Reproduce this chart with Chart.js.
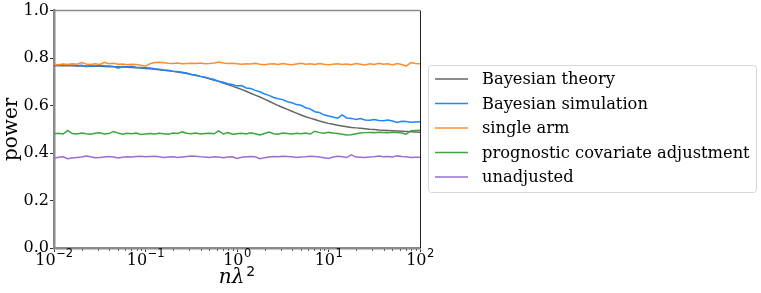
<!DOCTYPE html>
<html>
<head>
<meta charset="utf-8">
<script src="https://cdn.jsdelivr.net/npm/chart.js@4"></script>
<style>
  html, body { margin: 0; padding: 0; background: #fff; }
</style>
</head>
<body>
<canvas id="potenciaCanvas" width="761" height="293"></canvas>
<script>
// eje x: n*lambda^2 (escala log)
const nLambda2 = [
  0.01, 0.0112, 0.0126, 0.0141, 0.0158, 0.0178, 0.0200, 0.0224, 0.0251, 0.0282,
  0.0316, 0.0355, 0.0398, 0.0447, 0.0501, 0.0562, 0.0631, 0.0708, 0.0794, 0.0891,
  0.1, 0.112, 0.126, 0.141, 0.158, 0.178, 0.200, 0.224, 0.251, 0.282,
  0.316, 0.355, 0.398, 0.447, 0.501, 0.562, 0.631, 0.708, 0.794, 0.891,
  1, 1.12, 1.26, 1.41, 1.58, 1.78, 2.00, 2.24, 2.51, 2.82,
  3.16, 3.55, 3.98, 4.47, 5.01, 5.62, 6.31, 7.08, 7.94, 8.91,
  10, 11.2, 12.6, 14.1, 15.8, 17.8, 20.0, 22.4, 25.1, 28.2,
  31.6, 35.5, 39.8, 44.7, 50.1, 56.2, 63.1, 70.8, 79.4, 89.1,
  100
];

const xTicks = [0.01, 0.1, 1, 10, 100];
const xTickExp = ['−2', '−1', '0', '1', '2'];
const xMinorTicks = [
  0.02, 0.03, 0.04, 0.05, 0.06, 0.07, 0.08, 0.09,
  0.2, 0.3, 0.4, 0.5, 0.6, 0.7, 0.8, 0.9,
  2, 3, 4, 5, 6, 7, 8, 9,
  20, 30, 40, 50, 60, 70, 80, 90
];
const yTicks = [0, 0.2, 0.4, 0.6, 0.8, 1.0];

// series
const bayesTeoria = [
  0.769, 0.768, 0.768, 0.768, 0.768, 0.767, 0.767, 0.767, 0.766, 0.766,
  0.766, 0.765, 0.764, 0.764, 0.763, 0.762, 0.761, 0.760, 0.759, 0.758,
  0.756, 0.755, 0.753, 0.751, 0.749, 0.747, 0.744, 0.741, 0.738, 0.735,
  0.731, 0.727, 0.723, 0.718, 0.713, 0.707, 0.702, 0.695, 0.689, 0.682,
  0.675, 0.668, 0.660, 0.652, 0.644, 0.636, 0.627, 0.618, 0.609, 0.600,
  0.592, 0.584, 0.576, 0.568, 0.560, 0.553, 0.547, 0.541, 0.535, 0.530,
  0.525, 0.521, 0.517, 0.514, 0.511, 0.508, 0.506, 0.504, 0.502, 0.500,
  0.499, 0.497, 0.496, 0.495, 0.494, 0.493, 0.492, 0.491, 0.490, 0.489,
  0.488
];

const bayesSimulacion = [
  0.772, 0.770, 0.773, 0.769, 0.771, 0.768, 0.770, 0.764, 0.769, 0.767,
  0.770, 0.768, 0.767, 0.765, 0.757, 0.764, 0.763, 0.766, 0.761, 0.760,
  0.759, 0.758, 0.755, 0.753, 0.750, 0.749, 0.745, 0.743, 0.740, 0.737,
  0.731, 0.729, 0.723, 0.719, 0.714, 0.710, 0.702, 0.698, 0.692, 0.689,
  0.683, 0.684, 0.674, 0.672, 0.664, 0.658, 0.649, 0.643, 0.634, 0.629,
  0.625, 0.616, 0.612, 0.604, 0.601, 0.591, 0.586, 0.574, 0.571, 0.561,
  0.556, 0.552, 0.547, 0.561, 0.548, 0.546, 0.541, 0.545, 0.539, 0.538,
  0.541, 0.537, 0.536, 0.539, 0.535, 0.529, 0.534, 0.533, 0.530, 0.531,
  0.532
];

const brazoUnico = [
  0.774, 0.772, 0.775, 0.773, 0.776, 0.774, 0.781, 0.775, 0.773, 0.776,
  0.773, 0.782, 0.776, 0.778, 0.774, 0.775, 0.772, 0.774, 0.773, 0.770,
  0.766, 0.776, 0.781, 0.782, 0.780, 0.778, 0.777, 0.779, 0.776, 0.777,
  0.778, 0.777, 0.779, 0.776, 0.777, 0.779, 0.783, 0.779, 0.777, 0.778,
  0.776, 0.774, 0.776, 0.775, 0.778, 0.774, 0.772, 0.775, 0.776, 0.773,
  0.777, 0.774, 0.772, 0.775, 0.778, 0.774, 0.776, 0.773, 0.777, 0.774,
  0.772, 0.774, 0.776, 0.773, 0.775, 0.772, 0.777, 0.774, 0.771, 0.776,
  0.773, 0.778, 0.774, 0.776, 0.771, 0.777, 0.773, 0.766, 0.781, 0.777,
  0.776
];

const covariablePronostica = [
  0.481, 0.483, 0.480, 0.495, 0.482, 0.480, 0.484, 0.481, 0.479, 0.483,
  0.485, 0.480, 0.482, 0.491, 0.484, 0.479, 0.483, 0.481, 0.484, 0.478,
  0.480, 0.482, 0.480, 0.483, 0.481, 0.479, 0.484, 0.482, 0.489, 0.483,
  0.481, 0.484, 0.480, 0.482, 0.483, 0.481, 0.493, 0.480, 0.486, 0.479,
  0.481, 0.483, 0.480, 0.485, 0.481, 0.476, 0.482, 0.488, 0.481, 0.479,
  0.484, 0.482, 0.480, 0.483, 0.481, 0.484, 0.480, 0.492, 0.486, 0.483,
  0.487, 0.484, 0.482, 0.479, 0.476, 0.477, 0.481, 0.484, 0.486, 0.487,
  0.486, 0.488, 0.487, 0.486, 0.488, 0.486, 0.484, 0.479, 0.494, 0.495,
  0.496
];

const sinAjustar = [
  0.378, 0.382, 0.384, 0.376, 0.379, 0.381, 0.383, 0.387, 0.384, 0.380,
  0.381, 0.383, 0.385, 0.383, 0.379, 0.382, 0.384, 0.383, 0.385, 0.386,
  0.384, 0.385, 0.386, 0.384, 0.381, 0.383, 0.384, 0.381, 0.383, 0.385,
  0.387, 0.386, 0.384, 0.383, 0.381, 0.384, 0.383, 0.380, 0.383, 0.384,
  0.377, 0.382, 0.384, 0.385, 0.384, 0.376, 0.380, 0.383, 0.385, 0.384,
  0.386, 0.385, 0.384, 0.381, 0.383, 0.384, 0.386, 0.385, 0.383, 0.380,
  0.377, 0.383, 0.386, 0.384, 0.381, 0.392, 0.383, 0.382, 0.381, 0.383,
  0.384, 0.387, 0.384, 0.385, 0.383, 0.388, 0.385, 0.384, 0.381, 0.382,
  0.382
];

const etiquetas = ['Bayesian theory', 'Bayesian simulation', 'single arm',
  'prognostic covariate adjustment', 'unadjusted'];
const colores = ['#666666', '#1f86fb', '#ff8c2e', '#3ca63c', '#9a6fd2'];
const series = [bayesTeoria, bayesSimulacion, brazoUnico, covariablePronostica, sinAjustar];

const fuente = 'DejaVu Serif';
const fuenteSup = 'DejaVu Sans';

// leyenda con marco, estilo matplotlib
const leyendaPlugin = {
  id: 'leyendaMarco',
  afterDraw(chart) {
    const ctx = chart.ctx;
    const x0 = 428, y0 = 65, w = 328, h = 127;
    ctx.save();
    ctx.beginPath();
    ctx.roundRect(x0 + 0.5, y0 + 0.5, w, h, 3);
    ctx.fillStyle = 'rgba(255,255,255,0.8)';
    ctx.fill();
    ctx.strokeStyle = '#d6d6d6';
    ctx.lineWidth = 1;
    ctx.stroke();
    ctx.font = '16.3px "' + fuente + '"';
    ctx.textBaseline = 'middle';
    chart.data.datasets.forEach((ds, i) => {
      const y = 79 + i * 24.5;
      ctx.strokeStyle = ds.borderColor;
      ctx.lineWidth = 1.5;
      ctx.beginPath();
      ctx.moveTo(435, y);
      ctx.lineTo(468, y);
      ctx.stroke();
      ctx.fillStyle = '#000';
      ctx.fillText(ds.label, 482, y + 1);
    });
    ctx.restore();
  }
};

// bordes de arriba y derecha, ticks menores y etiquetas 10^k
const bordesPlugin = {
  id: 'bordes',
  afterDraw(chart) {
    const a = chart.chartArea;
    const ctx = chart.ctx;
    const ejeX = chart.scales.x;
    ctx.save();
    ctx.strokeStyle = '#8a8a8a';
    ctx.lineWidth = 1.5;
    ctx.beginPath();
    ctx.moveTo(a.left, a.top);
    ctx.lineTo(a.right, a.top);
    ctx.stroke();
    ctx.strokeStyle = '#222';
    ctx.lineWidth = 1;
    ctx.beginPath();
    ctx.moveTo(a.right + 0.5, a.top);
    ctx.lineTo(a.right + 0.5, a.bottom);
    ctx.stroke();

    // ticks menores
    ctx.strokeStyle = '#444';
    ctx.lineWidth = 0.8;
    xMinorTicks.forEach(v => {
      const px = Math.round(ejeX.getPixelForValue(v)) + 0.5;
      ctx.beginPath();
      ctx.moveTo(px, a.bottom + 1);
      ctx.lineTo(px, a.bottom + 3);
      ctx.stroke();
    });

    // etiquetas del eje x
    ctx.fillStyle = '#000';
    ctx.textBaseline = 'alphabetic';
    ctx.textAlign = 'left';
    xTicks.forEach((v, i) => {
      const px = ejeX.getPixelForValue(v);
      ctx.font = '16px "' + fuente + '"';
      const w1 = ctx.measureText('10').width;
      ctx.font = '11.5px "' + fuenteSup + '"';
      const w2 = ctx.measureText(xTickExp[i]).width;
      const x0 = px - (w1 + w2) / 2;
      ctx.font = '16px "' + fuente + '"';
      ctx.fillText('10', x0, 265);
      ctx.font = '11.5px "' + fuenteSup + '"';
      ctx.fillText(xTickExp[i], x0 + w1 + 0.5, 257);
    });

    // titulo eje x
    ctx.font = 'italic 20px "' + fuente + '"';
    const t1 = ctx.measureText('nλ').width;
    ctx.font = '14px "' + fuenteSup + '"';
    const t2 = ctx.measureText('2').width;
    const cx = (a.left + a.right) / 2 - (t1 + t2 + 2) / 2;
    ctx.font = 'italic 20px "' + fuente + '"';
    ctx.fillText('nλ', cx, 283);
    ctx.font = '14px "' + fuenteSup + '"';
    ctx.fillText('2', cx + t1 + 2, 276);
    ctx.restore();
  }
};

const datasets = series.map((valores, i) => ({
  label: etiquetas[i],
  data: nLambda2.map((x, j) => ({ x: x, y: valores[j] })),
  borderColor: colores[i],
  backgroundColor: colores[i],
  borderWidth: 1.5,
  pointRadius: 0,
  tension: 0,
  fill: false,
  order: 4 - i
}));

const ctx = document.getElementById('potenciaCanvas').getContext('2d');

const config = {
  type: 'line',
  data: { datasets: datasets },
  options: {
    responsive: false,
    devicePixelRatio: 1,
    animation: false,
    layout: { padding: { top: 10, right: 341, bottom: 0, left: 0 } },
    plugins: {
      legend: { display: false },
      tooltip: { enabled: false }
    },
    scales: {
      x: {
        type: 'logarithmic',
        min: 0.01,
        max: 100,
        afterBuildTicks: (eje) => { eje.ticks = xTicks.map(v => ({ value: v })); },
        afterFit: (eje) => { eje.height = 45; },
        ticks: { display: false },
        grid: { drawOnChartArea: false, tickLength: 4, color: '#333' },
        border: { color: '#8a8a8a', width: 2.5 },
        title: { display: false }
      },
      y: {
        min: 0,
        max: 1,
        afterBuildTicks: (eje) => { eje.ticks = yTicks.map(v => ({ value: v })); },
        afterFit: (eje) => { eje.width = 54; },
        ticks: {
          color: '#000',
          font: { family: fuente, size: 16 },
          padding: 1,
          callback: (valor) => valor.toFixed(1)
        },
        grid: { drawOnChartArea: false, tickLength: 4, color: '#333' },
        border: { color: '#8a8a8a', width: 2.5 },
        title: {
          display: true,
          text: 'power',
          color: '#000',
          font: { family: fuente, size: 20 },
          padding: { top: 0, bottom: 0 }
        }
      }
    }
  },
  plugins: [bordesPlugin, leyendaPlugin]
};

const grafico = new Chart(ctx, config);
</script>
</body>
</html>
